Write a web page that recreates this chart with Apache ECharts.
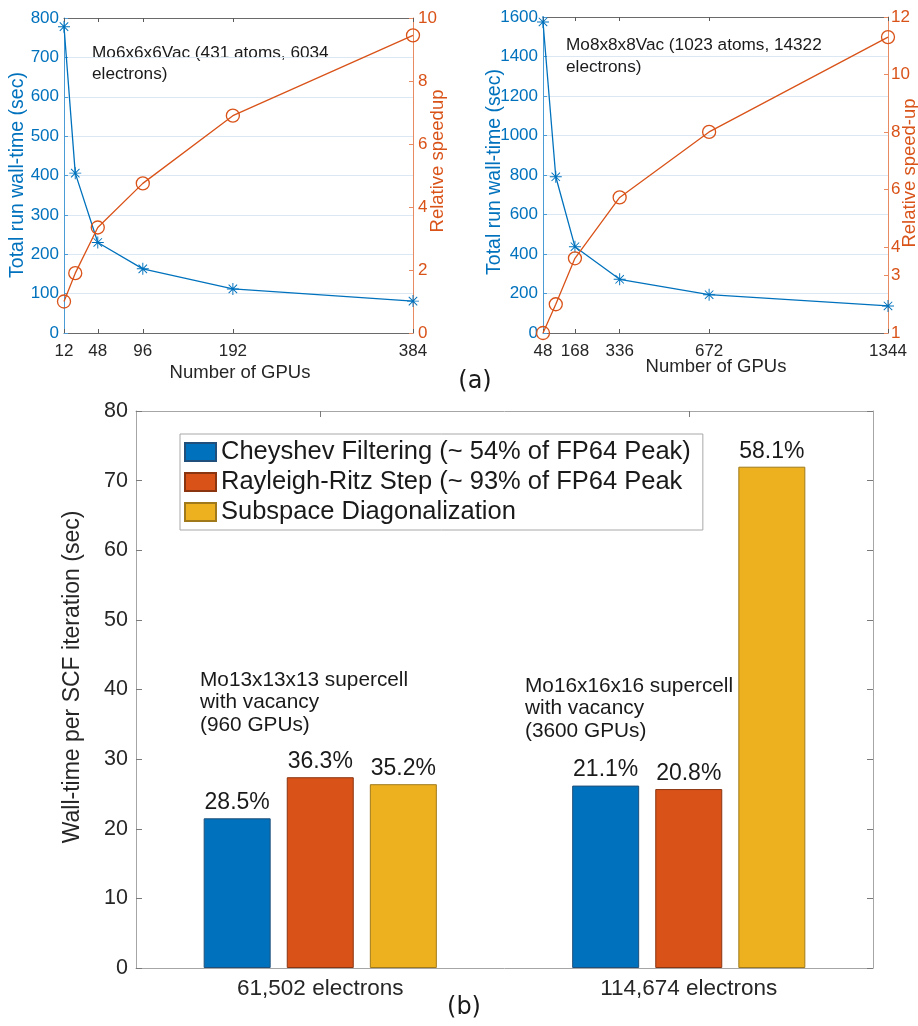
<!DOCTYPE html>
<html>
<head>
<meta charset="utf-8">
<script src="https://cdn.jsdelivr.net/npm/echarts@6/dist/echarts.min.js"></script>
<style>
html,body{margin:0;padding:0;background:#fff;}
#chart{width:918px;height:1026px;}
</style>
</head>
<body>
<div id="chart"></div>
<script>
// ---------- data: panel (a) left ----------
const gpusA = [12, 24, 48, 96, 192, 384];
const timeA = [778, 406, 230, 163, 112, 81];
const speedA = [1.0, 1.9, 3.35, 4.75, 6.9, 9.45];
const gpuTicksA = [12, 48, 96, 192, 384];
const noteA = ['Mo6x6x6Vac (431 atoms, 6034', 'electrons)'];

// ---------- data: panel (a) right ----------
const gpusB = [48, 96, 168, 336, 672, 1344];
const timeB = [1575, 791, 437, 272, 194, 137];
const speedB = [1.0, 2.0, 3.6, 5.72, 8.0, 11.3];
const gpuTicksB = [48, 168, 336, 672, 1344];
const speedTicksB = [1, 3, 4, 6, 8, 10, 12];
const noteB = ['Mo8x8x8Vac (1023 atoms, 14322', 'electrons)'];

// ---------- data: panel (b) ----------
const categories = ['61,502 electrons', '114,674 electrons'];
const seriesNames = ['Cheyshev Filtering (~ 54% of FP64 Peak)', 'Rayleigh-Ritz Step (~ 93% of FP64 Peak', 'Subspace Diagonalization'];
const chebyshev = [21.5, 26.2];
const rayleigh = [27.4, 25.7];
const subspace = [26.4, 72.0];
const pctChebyshev = ['28.5%', '21.1%'];
const pctRayleigh = ['36.3%', '20.8%'];
const pctSubspace = ['35.2%', '58.1%'];
const noteC1 = ['Mo13x13x13 supercell', 'with vacancy', '(960 GPUs)'];
const noteC2 = ['Mo16x16x16 supercell', 'with vacancy', '(3600 GPUs)'];

// ---------- styling ----------
const FONT = '"Liberation Sans", Arial, Helvetica, sans-serif';
const BLUE = '#0072BD';
const ORANGE = '#D95319';
const BLUE_LINE = '#4b9bd6';
const ORANGE_LINE = '#e88a62';
const BAR_BLUE = '#0072BD';
const BAR_ORANGE = '#D95319';
const BAR_YELLOW = '#EDB120';
const TXT = '#262626';
const GRAYLINE = '#a6a6a6';
const ASTER = 'path://M9.2 0H10.8V20H9.2Z M0 9.2H20V10.8H0Z M2.4 3.5L3.5 2.4L17.6 16.5L16.5 17.6Z M16.5 2.4L17.6 3.5L3.5 17.6L2.4 16.5Z';
const plain = v => String(v);

function zip(a, b) { return a.map((v, i) => [v, b[i]]); }

function valX(grid, min, max, ticks, pos, showLabel) {
  return {
    type: 'value', gridIndex: grid, min: min, max: max, position: pos,
    axisLine: { show: true, onZero: false, lineStyle: { color: '#6a6a6a', width: 1 } },
    axisTick: { show: true, inside: true, length: 4, customValues: ticks, lineStyle: { color: '#5a5a5a' } },
    axisLabel: { show: showLabel, customValues: ticks, formatter: plain, color: TXT, fontSize: 17, fontFamily: FONT, margin: 10 },
    splitLine: { show: false }
  };
}

function valY(grid, min, max, interval, pos, color, lineColor, split, custom, margin) {
  const ax = {
    type: 'value', gridIndex: grid, min: min, max: max, position: pos,
    axisLine: { show: true, onZero: false, lineStyle: { color: lineColor, width: 1 } },
    axisTick: { show: true, inside: true, length: 4, lineStyle: { color: lineColor } },
    axisLabel: { color: color, fontSize: 17, fontFamily: FONT, margin: margin, formatter: plain },
    splitLine: { show: split, lineStyle: { color: '#dbe8f4', width: 1 } }
  };
  if (interval) ax.interval = interval;
  if (custom) { ax.axisLabel.customValues = custom; ax.axisTick.customValues = custom; }
  return ax;
}

function lineSeries(xi, yi, data, color, isStar) {
  return {
    type: 'line', xAxisIndex: xi, yAxisIndex: yi, data: data,
    symbol: isStar ? ASTER : 'circle', symbolSize: isStar ? 12 : 13,
    lineStyle: { color: color, width: 1.3 },
    itemStyle: isStar ? { color: color, borderWidth: 0 } : { color: 'rgba(0,0,0,0)', borderColor: color, borderWidth: 1.3 },
    emphasis: { disabled: true }, animation: false, z: isStar ? 3 : 4
  };
}

function barSeries(name, data, pct, color, border) {
  return {
    name: name, type: 'bar', xAxisIndex: 4, yAxisIndex: 4, data: data,
    barWidth: 67, barGap: '24%',
    itemStyle: { color: color, borderColor: border, borderWidth: 1 },
    label: { show: true, position: 'top', distance: 4, color: '#1a1a1a', fontSize: 23, fontFamily: FONT,
      formatter: p => pct[p.dataIndex] },
    emphasis: { disabled: true }, animation: false
  };
}

function txt(str, x, y, size, color, rot, align, family) {
  return {
    type: 'text', x: x, y: y, rotation: rot || 0, silent: true,
    style: { text: str, fill: color, fontSize: size, fontFamily: family || FONT,
      align: align || 'center', verticalAlign: 'middle' }
  };
}

const graphics = [
  txt('Total run wall-time (sec)', 18, 175, 19.5, BLUE, Math.PI / 2),
  txt('Relative speedup', 438, 161, 18.5, ORANGE, Math.PI / 2),
  txt('Number of GPUs', 240, 373, 18.5, TXT),
  txt('Total run wall-time (sec)', 495, 172, 19.5, BLUE, Math.PI / 2),
  txt('Relative speed-up', 910, 173, 18.5, ORANGE, Math.PI / 2),
  txt('Number of GPUs', 716, 367, 18.5, TXT),
  txt('(a)', 475, 382, 24, '#1a1a1a', 0, 'center', '"DejaVu Sans", sans-serif'),
  txt('Wall-time per SCF iteration (sec)', 73, 677, 23, TXT, Math.PI / 2),
  txt('(b)', 464, 1008, 24, '#1a1a1a', 0, 'center', '"DejaVu Sans", sans-serif')
];
noteA.forEach((s, i) => graphics.push(txt(s, 92, 53 + i * 21.7, 17.2, '#1a1a1a', 0, 'left')));
noteB.forEach((s, i) => graphics.push(txt(s, 566, 45 + i * 22, 17.2, '#1a1a1a', 0, 'left')));
noteC1.forEach((s, i) => graphics.push(txt(s, 200, 680 + i * 22.5, 20.8, '#1a1a1a', 0, 'left')));
noteC2.forEach((s, i) => graphics.push(txt(s, 525, 686 + i * 22.5, 20.8, '#1a1a1a', 0, 'left')));

const option = {
  backgroundColor: '#fff',
  animation: false,
  grid: [
    { left: 64, top: 18, width: 349, height: 315, containLabel: false },
    { left: 543, top: 17, width: 345, height: 316, containLabel: false },
    { left: 136, top: 411, right: 45, bottom: 58, containLabel: false }
  ],
  legend: {
    data: seriesNames, orient: 'vertical', left: 180, top: 434,
    padding: [5, 12, 5, 4], itemGap: 4, itemWidth: 31, itemHeight: 18, icon: 'rect',
    borderColor: '#a8a8a8', borderWidth: 1, backgroundColor: '#fff',
    textStyle: { fontSize: 25.5, fontFamily: FONT, color: '#1a1a1a', lineHeight: 25 },
    selectedMode: false
  },
  xAxis: [
    valX(0, 12, 384, gpuTicksA, 'bottom', true),
    valX(0, 12, 384, gpuTicksA, 'top', false),
    valX(1, 48, 1344, gpuTicksB, 'bottom', true),
    valX(1, 48, 1344, gpuTicksB, 'top', false),
    {
      type: 'category', gridIndex: 2, data: categories, position: 'bottom',
      axisLine: { show: true, onZero: false, lineStyle: { color: GRAYLINE } },
      axisTick: { show: true, inside: true, length: 6, alignWithLabel: true, lineStyle: { color: '#7a7a7a' } },
      axisLabel: { color: TXT, fontSize: 22.5, fontFamily: FONT, margin: 9 }
    },
    {
      type: 'category', gridIndex: 2, data: categories, position: 'top',
      axisLine: { show: true, onZero: false, lineStyle: { color: GRAYLINE } },
      axisTick: { show: true, inside: true, length: 6, alignWithLabel: true, lineStyle: { color: '#7a7a7a' } },
      axisLabel: { show: false }
    }
  ],
  yAxis: [
    valY(0, 0, 800, 100, 'left', BLUE, BLUE_LINE, true, null, 5),
    valY(0, 0, 10, 2, 'right', ORANGE, ORANGE_LINE, false, null, 5),
    valY(1, 0, 1600, 200, 'left', BLUE, BLUE_LINE, true, null, 5),
    valY(1, 1, 12, null, 'right', ORANGE, ORANGE_LINE, false, speedTicksB, 3),
    {
      type: 'value', gridIndex: 2, min: 0, max: 80, interval: 10, position: 'left',
      axisLine: { show: true, onZero: false, lineStyle: { color: GRAYLINE } },
      axisTick: { show: true, inside: true, length: 6, lineStyle: { color: '#7a7a7a' } },
      axisLabel: { color: TXT, fontSize: 21.5, fontFamily: FONT, margin: 8 },
      splitLine: { show: false }
    },
    {
      type: 'value', gridIndex: 2, min: 0, max: 80, interval: 10, position: 'right',
      axisLine: { show: true, onZero: false, lineStyle: { color: GRAYLINE } },
      axisTick: { show: true, inside: true, length: 6, lineStyle: { color: '#7a7a7a' } },
      axisLabel: { show: false },
      splitLine: { show: false }
    }
  ],
  series: [
    lineSeries(0, 0, zip(gpusA, timeA), BLUE, true),
    lineSeries(0, 1, zip(gpusA, speedA), ORANGE, false),
    lineSeries(2, 2, zip(gpusB, timeB), BLUE, true),
    lineSeries(2, 3, zip(gpusB, speedB), ORANGE, false),
    barSeries(seriesNames[0], chebyshev, pctChebyshev, BAR_BLUE, '#1f4f7a'),
    barSeries(seriesNames[1], rayleigh, pctRayleigh, BAR_ORANGE, '#8a3510'),
    barSeries(seriesNames[2], subspace, pctSubspace, BAR_YELLOW, '#a07a1a')
  ],
  graphic: graphics
};

const chart = echarts.init(document.getElementById('chart'), null, { renderer: 'canvas' });
chart.setOption(option);
</script>
</body>
</html>
